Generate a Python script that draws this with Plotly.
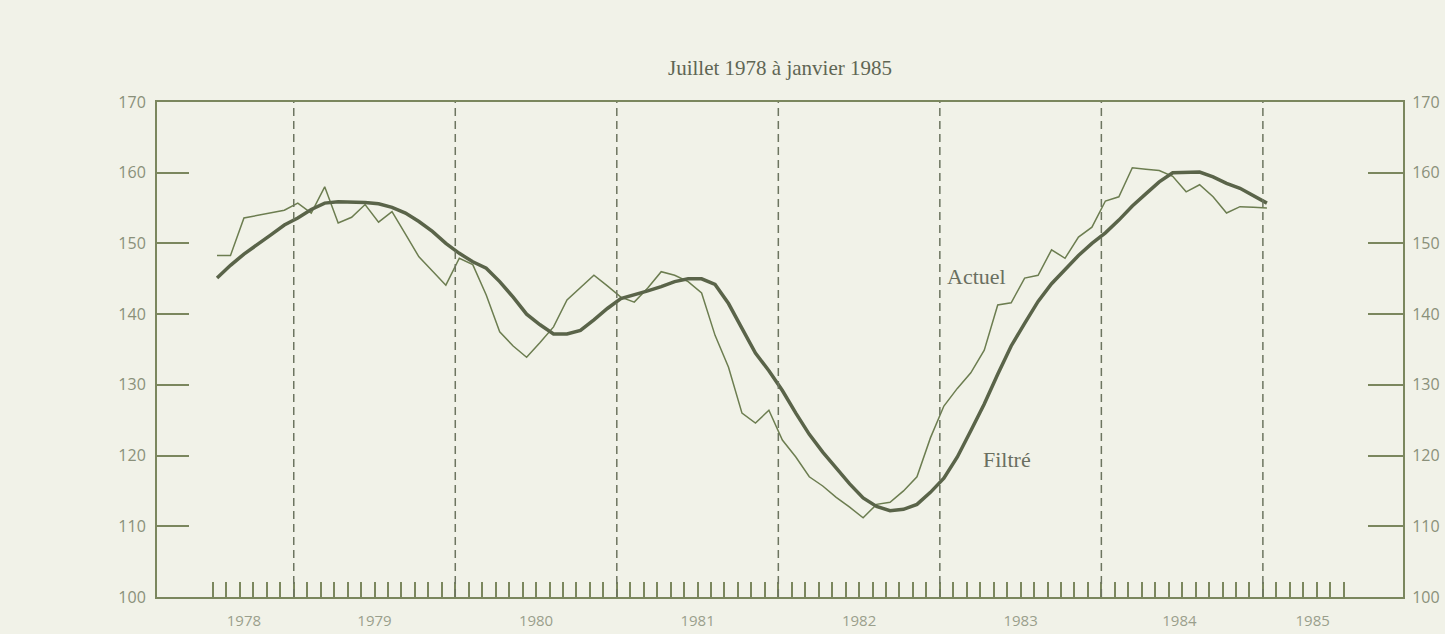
import plotly.graph_objects as go

# ---- data (monthly, July 1978 to January 1985) ----
month_index = list(range(79))  # 0 = juillet 1978
actuel = [148.3, 148.3, 153.6, 154.0, 154.4, 154.7, 155.7, 154.3, 158.0, 152.9,
          153.7, 155.5, 153.0, 154.5, 151.3, 148.1, 146.1, 144.1, 147.9, 147.0,
          142.7, 137.5, 135.5, 133.9, 136.0, 138.2, 142.0, 143.8, 145.5, 144.0,
          142.4, 141.7, 143.7, 146.0, 145.5, 144.6, 143.0, 137.0, 132.5, 126.0,
          124.6, 126.4, 122.2, 119.8, 117.0, 115.7, 114.1, 112.7, 111.2, 113.1,
          113.4, 115.0, 117.0, 122.5, 127.0, 129.5, 131.7, 134.9, 141.3, 141.6,
          145.1, 145.5, 149.1, 147.9, 150.9, 152.3, 156.0, 156.6, 160.7, 160.5,
          160.3, 159.5, 157.3, 158.3, 156.6, 154.3, 155.2, 155.1, 155.0]
filtre = [145.1, 146.9, 148.5, 149.8, 151.2, 152.6, 153.6, 154.8, 155.7, 155.9,
          155.9, 155.8, 155.6, 155.1, 154.3, 153.1, 151.7, 150.0, 148.6, 147.4,
          146.5, 144.6, 142.4, 140.0, 138.5, 137.2, 137.2, 137.7, 139.2, 140.8,
          142.2, 142.7, 143.3, 143.9, 144.6, 145.0, 145.0, 144.2, 141.5, 138.0,
          134.5, 132.0, 129.2, 126.0, 123.0, 120.5, 118.2, 116.0, 114.0, 112.8,
          112.2, 112.4, 113.1, 114.8, 116.8, 119.8, 123.5, 127.3, 131.5, 135.5,
          138.7, 141.8, 144.3, 146.3, 148.3, 150.0, 151.5, 153.3, 155.3, 157.0,
          158.7, 160.0, 160.0, 160.1, 159.4, 158.5, 157.8, 156.8, 155.7]

year_labels = ["1978", "1979", "1980", "1981", "1982", "1983", "1984", "1985"]
year_label_pos = [2.3, 12, 24, 36, 48, 60, 71.8, 81.7]   # in months from July 1978
january_marks = [6, 18, 30, 42, 54, 66, 78]                # January of 1979..1985
month_ticks = list(range(85))                              # July 1978 .. July 1985
y_ticks = [100, 110, 120, 130, 140, 150, 160, 170]
title_text = "Juillet 1978 à janvier 1985"

# ---- styles ----
BG = "#f1f2e8"
AXIS = "#7b875e"
LBL = "#8a907a"
ACT_C = "#6c7d50"
FIL_C = "#5a6449"
SANS = "Open Sans, DejaVu Sans, sans-serif"
SERIF = "Liberation Serif, DejaVu Serif, serif"
XR = [-4.16, 88.41]

x = [m + 0.3 for m in month_index]

fig = go.Figure()
fig.add_trace(go.Scatter(x=x, y=actuel, mode="lines", name="Actuel",
                         line=dict(color=ACT_C, width=1.5), showlegend=False))
fig.add_trace(go.Scatter(x=x, y=filtre, mode="lines", name="Filtré",
                         line=dict(color=FIL_C, width=3.5), showlegend=False))
# invisible trace to activate the right-hand y axis
fig.add_trace(go.Scatter(x=[x[0]], y=[filtre[0]], yaxis="y2", mode="markers",
                         marker=dict(opacity=0), showlegend=False, hoverinfo="skip"))
# invisible trace to activate year-label x axis
fig.add_trace(go.Scatter(x=[x[0]], y=[filtre[0]], xaxis="x2", mode="markers",
                         marker=dict(opacity=0), showlegend=False, hoverinfo="skip"))

for m in january_marks:
    fig.add_vline(x=m, line=dict(color="#6d7560", width=1.5, dash="8px,5px"))

fig.add_annotation(x=56.7, y=145.3, text="Actuel", showarrow=False,
                   font=dict(family=SERIF, size=22, color="#6a6f60"))
fig.add_annotation(x=59.0, y=119.4, text="Filtré", showarrow=False,
                   font=dict(family=SERIF, size=22, color="#6a6f60"))

fig.update_layout(
    width=1445, height=634,
    paper_bgcolor=BG, plot_bgcolor=BG,
    margin=dict(l=157, r=42, t=102, b=37, autoexpand=False),
    title=dict(text=title_text, x=0.5, xanchor="center", y=1 - 68 / 634, yanchor="middle",
               xref="paper", font=dict(family=SERIF, size=21, color="#5f6654")),
    xaxis=dict(range=XR, showgrid=False, zeroline=False, automargin=False,
               showline=True, linecolor=AXIS, linewidth=2, mirror=True,
               ticks="inside", ticklen=15, tickwidth=1.5, tickcolor=AXIS,
               tickvals=month_ticks, showticklabels=False),
    xaxis2=dict(range=XR, overlaying="x", side="bottom", showgrid=False, zeroline=False,
                automargin=False, showline=False, ticks="", tickvals=year_label_pos,
                ticktext=year_labels,
                tickfont=dict(family=SANS, size=15, color="#9a9f8c"), ticklabelstandoff=13),
    yaxis=dict(range=[100, 170], showgrid=False, zeroline=False, automargin=False,
               showline=True, linecolor=AXIS, linewidth=2,
               ticks="inside", ticklen=32, tickwidth=2, tickcolor=AXIS,
               tickvals=y_ticks, tickfont=dict(family=SANS, size=16, color=LBL),
               ticklabelstandoff=6),
    yaxis2=dict(range=[100, 170], overlaying="y", side="right", showgrid=False,
                zeroline=False, automargin=False, showline=True, linecolor=AXIS, linewidth=2,
                ticks="inside", ticklen=35, tickwidth=2, tickcolor=AXIS,
                tickvals=y_ticks, tickfont=dict(family=SANS, size=16, color=LBL),
                ticklabelstandoff=4),
)

fig.write_html(
    "out.html",
    config={"displayModeBar": False},
    post_script="document.body.style.margin='0';document.body.style.background='" + BG + "';",
)
